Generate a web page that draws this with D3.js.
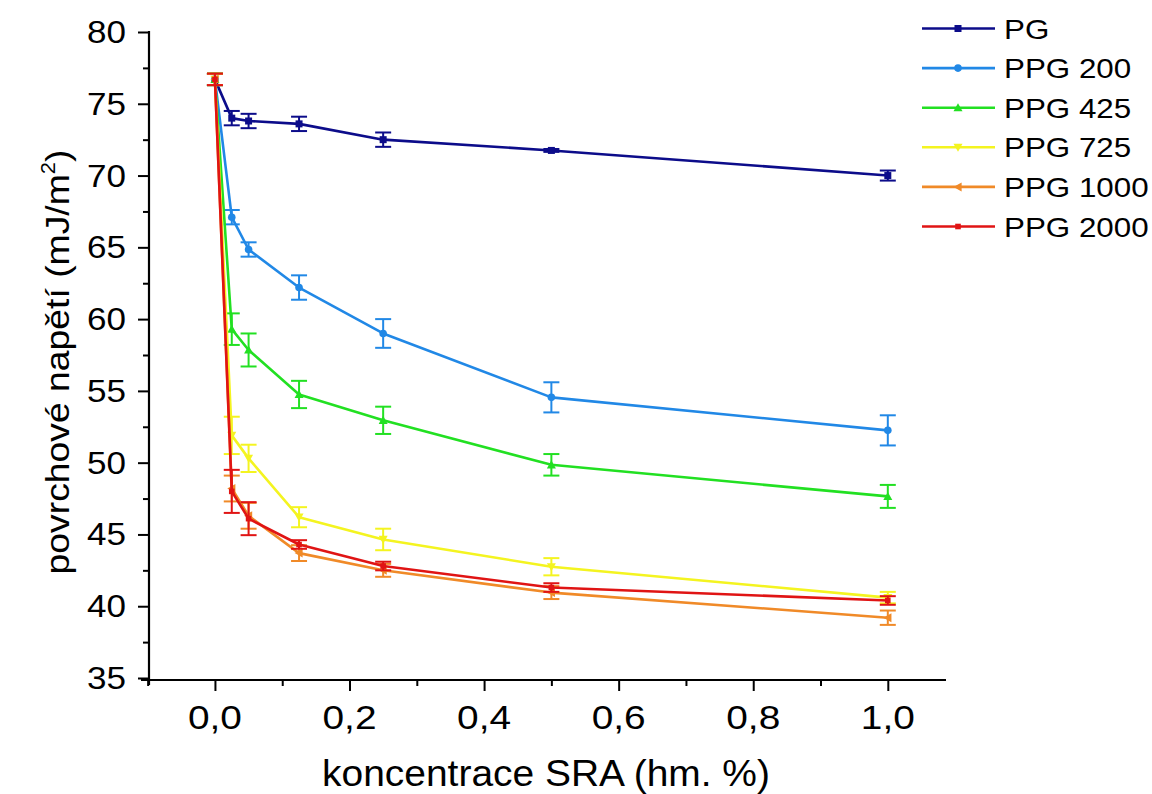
<!DOCTYPE html>
<html><head><meta charset="utf-8">
<script src="https://cdn.jsdelivr.net/npm/d3@7"></script>
<style>body{margin:0;background:#fff}svg{display:block}</style>
</head><body><svg id="c" width="1152" height="794"></svg>
<script>
const xValues = [0, 0.025, 0.05, 0.125, 0.25, 0.5, 1.0];
const seriesNames = ["PG", "PPG 200", "PPG 425", "PPG 725", "PPG 1000", "PPG 2000"];
const seriesColors = ["#0c0c8a", "#2188e6", "#22e022", "#f4f420", "#f08a28", "#e01414"];
const seriesSymbols = ["square", "circle", "triUp", "triDown", "triLeft", "smallSquare"];
const valsPG      = [76.7, 74.0, 73.8, 73.6, 72.5, 71.75, 70.0];
const errPG       = [0.4, 0.5, 0.5, 0.5, 0.5, 0.1, 0.35];
const valsPPG200  = [76.7, 67.1, 64.85, 62.2, 59.0, 54.55, 52.25];
const errPPG200   = [0.4, 0.5, 0.5, 0.85, 1.0, 1.05, 1.05];
const valsPPG425  = [76.7, 59.3, 57.85, 54.75, 52.95, 49.85, 47.65];
const errPPG425   = [0.4, 1.1, 1.15, 0.95, 0.95, 0.75, 0.8];
const valsPPG725  = [76.7, 51.9, 50.3, 46.2, 44.65, 42.75, 40.6];
const errPPG725   = [0.4, 1.3, 0.95, 0.7, 0.75, 0.6, 0.4];
const valsPPG1000 = [76.7, 48.2, 46.3, 43.7, 42.5, 40.95, 39.2];
const errPPG1000  = [0.4, 0.9, 0.9, 0.55, 0.45, 0.45, 0.5];
const valsPPG2000 = [76.7, 48.0, 46.1, 44.3, 42.8, 41.3, 40.4];
const errPPG2000  = [0.4, 1.5, 1.15, 0.3, 0.3, 0.3, 0.3];
const allVals = [valsPG, valsPPG200, valsPPG425, valsPPG725, valsPPG1000, valsPPG2000];
const allErr = [errPG, errPPG200, errPPG425, errPPG725, errPPG1000, errPPG2000];
const xTicks = [0, 0.2, 0.4, 0.6, 0.8, 1.0];
const xMinorTicks = [-0.1, 0.1, 0.3, 0.5, 0.7, 0.9];
const yTicks = [35, 40, 45, 50, 55, 60, 65, 70, 75, 80];
const yMinorTicks = [37.5, 42.5, 47.5, 52.5, 57.5, 62.5, 67.5, 72.5, 77.5];

const FONT = "Liberation Sans, Arial, sans-serif";
const svg = d3.select("#c");
const x = d3.scaleLinear().domain([-0.098, 1.085]).range([149, 945]);
const y = d3.scaleLinear().domain([35, 80]).range([678, 32]);

function fitText(textSel, target) {
  const w = textSel.node().getBBox().width;
  return target / w;
}

const axisG = svg.append("g");
axisG.append("g").attr("transform", "translate(149,0)")
  .call(d3.axisLeft(y).tickValues(yTicks).tickSize(11).tickFormat(""));
axisG.append("g").attr("transform", "translate(149,0)")
  .call(d3.axisLeft(y).tickValues(yMinorTicks).tickSize(6).tickFormat(""));
axisG.append("g").attr("transform", "translate(0,680)")
  .call(d3.axisBottom(x).tickValues(xTicks).tickSize(11).tickFormat(""));
axisG.append("g").attr("transform", "translate(0,680)")
  .call(d3.axisBottom(x).tickValues(xMinorTicks).tickSize(6).tickFormat(""));
axisG.selectAll(".domain").remove();
axisG.selectAll(".tick line").attr("stroke", "#000").attr("stroke-width", 2);
axisG.append("line").attr("x1", 149).attr("x2", 149).attr("y1", y(80) - 1).attr("y2", 685).attr("stroke", "#000").attr("stroke-width", 2.2);
axisG.append("line").attr("x1", 141).attr("x2", 946).attr("y1", 680).attr("y2", 680).attr("stroke", "#000").attr("stroke-width", 2.2);

yTicks.forEach(v => {
  const g = svg.append("g");
  const t = g.append("text").attr("text-anchor", "end").attr("font-family", FONT).attr("font-size", 31)
    .attr("x", 0).attr("y", 0).text(d3.format("d")(v));
  const s = fitText(t, 39);
  g.attr("transform", `translate(126,${y(v) + 11}) scale(${s},1)`);
});
xTicks.forEach(v => {
  const g = svg.append("g");
  const t = g.append("text").attr("text-anchor", "middle").attr("font-family", FONT).attr("font-size", 33)
    .attr("x", 0).attr("y", 0).text(d3.format(".1f")(v).replace(".", ","));
  const s = fitText(t, 54);
  g.attr("transform", `translate(${x(v)},729) scale(${s},1)`);
});

{
  const g = svg.append("g");
  const t = g.append("text").attr("text-anchor", "middle").attr("font-family", FONT).attr("font-size", 37)
    .text("koncentrace SRA (hm. %)");
  const s = fitText(t, 448);
  g.attr("transform", `translate(546,786) scale(${s},1)`);
}
{
  const g = svg.append("g");
  const t = g.append("text").attr("text-anchor", "middle").attr("font-family", FONT).attr("font-size", 34);
  t.append("tspan").text("povrchové napětí (mJ/m");
  t.append("tspan").attr("font-size", 20).attr("dy", -14).text("2");
  t.append("tspan").attr("dy", 14).text(")");
  const s = fitText(t, 425);
  g.attr("transform", `translate(69,362) rotate(-90) scale(${s},1)`);
}

function drawMarker(g, sym, cx, cy, color) {
  if (sym === "square") g.append("rect").attr("x", cx - 3.5).attr("y", cy - 3.5).attr("width", 7).attr("height", 7).attr("fill", color);
  else if (sym === "smallSquare") g.append("rect").attr("x", cx - 2.8).attr("y", cy - 2.8).attr("width", 5.6).attr("height", 5.6).attr("fill", color);
  else if (sym === "circle") g.append("circle").attr("cx", cx).attr("cy", cy).attr("r", 3.8).attr("fill", color);
  else {
    const s = 4.5;
    let pts;
    if (sym === "triUp") pts = [[cx, cy - s], [cx - s, cy + s * 0.8], [cx + s, cy + s * 0.8]];
    else if (sym === "triDown") pts = [[cx, cy + s], [cx - s, cy - s * 0.8], [cx + s, cy - s * 0.8]];
    else pts = [[cx - s, cy], [cx + s * 0.8, cy - s], [cx + s * 0.8, cy + s]];
    g.append("polygon").attr("points", pts.map(p => p.join(",")).join(" ")).attr("fill", color);
  }
}

const line = d3.line().x(d => x(d[0])).y(d => y(d[1]));
const plot = svg.append("g");
seriesNames.forEach((name, i) => {
  const g = plot.append("g");
  const c = seriesColors[i];
  const data = xValues.map((xv, k) => [xv, allVals[i][k], allErr[i][k]]);
  data.forEach(d => {
    const cx = x(d[0]);
    const y1 = y(d[1] + d[2]), y2 = y(d[1] - d[2]);
    g.append("line").attr("x1", cx).attr("x2", cx).attr("y1", y1).attr("y2", y2).attr("stroke", c).attr("stroke-width", 2);
    [y1, y2].forEach(yy => g.append("line").attr("x1", cx - 8).attr("x2", cx + 8).attr("y1", yy).attr("y2", yy).attr("stroke", c).attr("stroke-width", 2));
  });
  g.append("path").datum(data).attr("d", line).attr("fill", "none").attr("stroke", c).attr("stroke-width", 2.6).attr("stroke-linejoin", "round");
  data.forEach(d => drawMarker(g, seriesSymbols[i], x(d[0]), y(d[1]), c));
});

const leg = svg.append("g");
seriesNames.forEach((n, i) => {
  const yy = 28.5 + i * 39.6;
  leg.append("line").attr("x1", 922).attr("x2", 995).attr("y1", yy).attr("y2", yy).attr("stroke", seriesColors[i]).attr("stroke-width", 2.6);
  drawMarker(leg, seriesSymbols[i], 958, yy, seriesColors[i]);
  const g = leg.append("g");
  g.append("text").attr("font-family", FONT).attr("font-size", 28).attr("x", 0).attr("y", 0).text(n);
  g.attr("transform", `translate(1004,${yy + 10}) scale(1.12,1)`);
});
</script></body></html>
